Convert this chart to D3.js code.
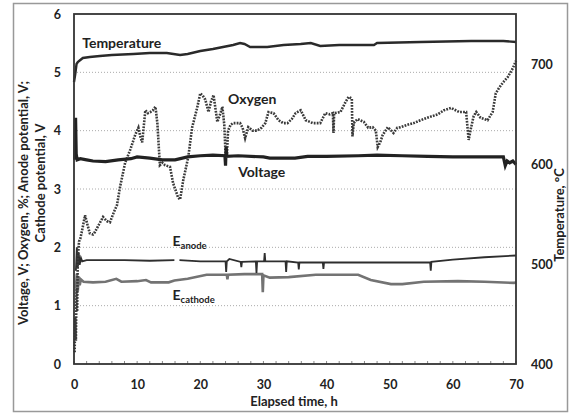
<!DOCTYPE html>
<html>
<head>
<meta charset="utf-8">
<script src="https://cdn.jsdelivr.net/npm/d3@7"></script>
<style>
  body { margin: 0; background: #fff; }
  text { font-family: Lato, "Liberation Sans", sans-serif; font-weight: bold; fill: #222; }
</style>
</head>
<body>
<div id="chart"></div>
<script>
// data: [elapsed time h, value]
const timeTicks = [0, 10, 20, 30, 40, 50, 60, 70];
const leftTicks = [0, 1, 2, 3, 4, 5, 6];
const tempTicks = [400, 500, 600, 700];

const temperature = [[0,682],[0.2,690],[0.4,700],[0.6,702],[1.0,704],[1.4,706],[2.5,707],[4.1,708],[6,709],[9.4,710],[12,711],[14.7,711],[16.8,709],[18,710],[20,713],[22,715],[25.2,719],[26.3,721],[27,720],[27.9,717],[30.6,717],[33.2,719],[35.9,720],[37.5,721],[39,718],[42,719],[47.5,719],[48,721],[54.9,722],[62.9,723],[68,723],[70,722]];

const voltage = [[0.1,3.5],[0.25,4.22],[0.35,3.6],[0.5,3.5],[1,3.52],[2,3.5],[3,3.48],[5,3.47],[7,3.5],[9,3.52],[10,3.55],[12,3.53],[14,3.5],[16,3.5],[18,3.55],[20,3.57],[22,3.58],[23.9,3.57],[24,3.4],[24.1,3.72],[24.2,3.56],[26,3.57],[30,3.55],[31,3.53],[35,3.53],[37,3.56],[40,3.56],[45,3.57],[48,3.58],[52,3.57],[56,3.56],[60,3.55],[64,3.55],[68,3.55],[68.3,3.4],[68.6,3.48],[69,3.45],[69.5,3.48],[70,3.42]];

const oxygen = [[0.1,0.2],[0.2,0.8],[0.3,0.4],[0.4,1.3],[0.5,0.9],[0.6,1.8],[0.8,2.1],[1.0,2.15],[1.3,2.3],[1.75,2.55],[2.1,2.4],[2.5,2.24],[3.0,2.22],[3.3,2.26],[4.0,2.4],[4.6,2.52],[5.2,2.45],[5.7,2.43],[6.3,2.6],[6.8,2.72],[7.3,3.04],[8.1,3.45],[8.9,3.67],[9.7,3.93],[10.2,4.05],[10.5,3.9],[10.8,3.8],[11.3,4.35],[11.7,4.3],[12.1,4.32],[12.5,4.35],[12.9,4.41],[13.2,4.13],[13.6,3.41],[14.0,3.45],[14.4,3.41],[15.2,3.38],[15.7,3.1],[16.5,2.85],[16.8,2.82],[17.3,3.15],[18.1,3.55],[18.7,4.05],[19.5,4.39],[20.0,4.64],[20.4,4.6],[20.8,4.53],[21.3,4.32],[21.7,4.5],[22.1,4.61],[22.7,4.15],[23.2,4.3],[23.5,4.41],[23.8,4.1],[24.0,3.6],[24.2,3.55],[24.4,4.0],[24.8,4.1],[25.2,4.13],[26.3,4.13],[26.7,4.05],[27.1,3.87],[27.6,4.06],[28.3,4.0],[29.0,4.0],[29.7,4.05],[30.3,4.13],[30.8,4.32],[31.6,4.3],[32.4,4.18],[33.1,4.13],[33.8,4.13],[34.5,4.2],[35.1,4.3],[35.9,4.35],[36.7,4.18],[37.8,4.13],[39.0,4.13],[39.8,4.3],[40.5,4.28],[41.0,4.3],[41.1,3.96],[41.2,4.3],[42.2,4.32],[43.0,4.49],[43.5,4.58],[44.0,4.55],[44.1,3.9],[44.3,4.13],[44.9,4.2],[45.9,4.15],[46.6,4.05],[47.3,4.06],[47.8,4.0],[48.1,3.72],[48.5,3.8],[48.9,3.93],[49.7,4.06],[50.6,3.96],[51.2,4.05],[51.7,4.06],[52.8,4.1],[53.8,4.13],[54.9,4.18],[56.2,4.23],[57.6,4.28],[58.6,4.35],[59.7,4.39],[61.0,4.32],[62.1,4.32],[62.5,3.84],[62.9,4.06],[63.3,4.25],[63.7,4.32],[64.4,4.22],[65.5,4.18],[66.3,4.32],[66.8,4.64],[67.3,4.73],[67.9,4.82],[68.7,4.92],[69.5,5.07],[70,5.2]];

// null = gap in the logged anode signal
const anode = [[0.3,1.6],[0.45,2.0],[0.6,1.65],[0.75,1.9],[0.9,1.7],[1.1,1.82],[1.3,1.76],[2,1.78],[5,1.78],[8,1.78],[12,1.77],[15.9,1.78],[16.2,null],[16.7,1.78],[20,1.76],[24,1.76],[24.1,1.58],[24.2,1.76],[24.6,1.8],[26.4,1.75],[26.5,1.66],[26.6,1.75],[28.8,1.76],[28.9,1.56],[29,1.76],[30.1,1.76],[30.2,1.9],[30.3,1.76],[33.5,1.76],[33.6,1.58],[33.7,1.76],[35.5,1.74],[35.6,1.62],[35.7,1.74],[39.4,1.74],[39.5,1.63],[39.6,1.74],[45,1.74],[50,1.74],[56.4,1.74],[56.5,1.6],[56.6,1.75],[60,1.79],[65,1.83],[70,1.86]];

const cathode = [[0.3,1.3],[0.45,1.55],[0.6,1.25],[0.75,1.5],[0.9,1.35],[1.1,1.45],[1.5,1.41],[3,1.4],[5,1.41],[6.7,1.46],[7.5,1.41],[10,1.42],[11.4,1.44],[12.2,1.4],[15,1.4],[15.9,1.43],[18,1.46],[21,1.53],[24.2,1.53],[24.3,1.45],[24.4,1.53],[27,1.54],[29.8,1.54],[29.9,1.23],[30,1.52],[31,1.48],[34,1.49],[38.3,1.53],[45,1.53],[47,1.44],[50.2,1.37],[52,1.37],[55.4,1.41],[60.8,1.42],[65,1.41],[69.7,1.39],[70,1.4]];

const seriesLabels = [
  { text: "Temperature", sub: "", t: 1.3, v: 5.42 },
  { text: "Oxygen", sub: "", t: 24.4, v: 4.46 },
  { text: "Voltage", sub: "", t: 26, v: 3.2 },
  { text: "E", sub: "anode", t: 15.6, v: 2.02 },
  { text: "E", sub: "cathode", t: 15.6, v: 1.1 }
];

const W = 570, H = 413;
const plot = { left: 74, right: 516, top: 14, bottom: 364 };

const svg = d3.select("#chart").append("svg")
  .attr("width", W)
  .attr("height", H);

// outer frame of the figure
svg.append("rect")
  .attr("x", 13.5).attr("y", 3.5)
  .attr("width", 554).attr("height", 408)
  .attr("fill", "none").attr("stroke", "#999").attr("stroke-width", 1.5);

const x = d3.scaleLinear().domain([0, 70]).range([plot.left, plot.right]);
const y = d3.scaleLinear().domain([0, 6]).range([plot.bottom, plot.top]);
const yT = d3.scaleLinear().domain([400, 750]).range([plot.bottom, plot.top]);

// dotted gridlines
svg.append("g")
  .selectAll("line")
  .data(leftTicks.filter(d => d > 0 && d < 6))
  .join("line")
  .attr("x1", plot.left).attr("x2", plot.right)
  .attr("y1", d => y(d)).attr("y2", d => y(d))
  .attr("stroke", "#aaa").attr("stroke-width", 1)
  .attr("stroke-dasharray", "1,2");

// axes
const axisStyle = g => {
  g.select(".domain").remove();
  g.selectAll("text").style("font-size", "12.5px").attr("fill", "#333");
};

svg.append("g")
  .attr("transform", `translate(0,${plot.bottom})`)
  .call(d3.axisBottom(x).tickValues(timeTicks).tickFormat(d3.format("d")).tickSize(0).tickPadding(16))
  .call(axisStyle);

// small inner marks along the time axis
svg.append("g")
  .selectAll("line")
  .data(d3.range(0, 71, 2))
  .join("line")
  .attr("x1", d => x(d)).attr("x2", d => x(d))
  .attr("y1", plot.bottom).attr("y2", plot.bottom - 3)
  .attr("stroke", "#888").attr("stroke-width", 1);

svg.append("g")
  .attr("transform", `translate(${plot.left},0)`)
  .call(d3.axisLeft(y).tickValues(leftTicks).tickFormat(d3.format("d")).tickSize(0).tickPadding(13))
  .call(axisStyle);

svg.append("g")
  .attr("transform", `translate(${plot.right},0)`)
  .call(d3.axisRight(yT).tickValues(tempTicks).tickFormat(d3.format("d")).tickSize(0).tickPadding(15))
  .call(axisStyle);

// series
const line = d3.line()
  .defined(d => d[1] != null)
  .x(d => x(d[0]))
  .y(d => y(d[1]));

const tLine = d3.line()
  .x(d => x(d[0]))
  .y(d => yT(d[1]));

svg.append("path").datum(cathode)
  .attr("d", line).attr("fill", "none")
  .attr("stroke", "#737373").attr("stroke-width", 2.6);

svg.append("path").datum(anode)
  .attr("d", line).attr("fill", "none")
  .attr("stroke", "#2e2e2e").attr("stroke-width", 1.8);

svg.append("path").datum(oxygen)
  .attr("d", line).attr("fill", "none")
  .attr("stroke", "#3a3a3a").attr("stroke-width", 2.6)
  .attr("stroke-dasharray", "1.8,1.2");

svg.append("path").datum(voltage)
  .attr("d", line).attr("fill", "none")
  .attr("stroke", "#222").attr("stroke-width", 3.2);

svg.append("path").datum(temperature)
  .attr("d", tLine).attr("fill", "none")
  .attr("stroke", "#2a2a2a").attr("stroke-width", 2.4);

// plot frame
svg.append("rect")
  .attr("x", plot.left).attr("y", plot.top)
  .attr("width", plot.right - plot.left).attr("height", plot.bottom - plot.top)
  .attr("fill", "none").attr("stroke", "#333").attr("stroke-width", 1.8);

// series labels
const lab = svg.append("g")
  .selectAll("text")
  .data(seriesLabels)
  .join("text")
  .attr("x", d => x(d.t))
  .attr("y", d => y(d.v))
  .style("font-size", "14px");

lab.append("tspan").text(d => d.text);
lab.filter(d => d.sub).append("tspan")
  .attr("dy", 3)
  .style("font-size", "9.5px")
  .text(d => d.sub);

// axis titles
svg.append("text")
  .attr("x", 294).attr("y", 406)
  .attr("text-anchor", "middle")
  .style("font-size", "13px")
  .text("Elapsed time, h");

svg.append("text")
  .attr("transform", "translate(23,203) rotate(-90)")
  .attr("text-anchor", "middle").attr("dy", "0.35em")
  .style("font-size", "13px")
  .text("Voltage, V; Oxygen, %; Anode potential, V;");

svg.append("text")
  .attr("transform", "translate(40,183) rotate(-90)")
  .attr("text-anchor", "middle").attr("dy", "0.35em")
  .style("font-size", "13px")
  .text("Cathode potential, V");

svg.append("text")
  .attr("transform", "translate(559,215) rotate(-90)")
  .attr("text-anchor", "middle").attr("dy", "0.35em")
  .style("font-size", "13px")
  .text("Temperature, °C");
</script>
</body>
</html>
